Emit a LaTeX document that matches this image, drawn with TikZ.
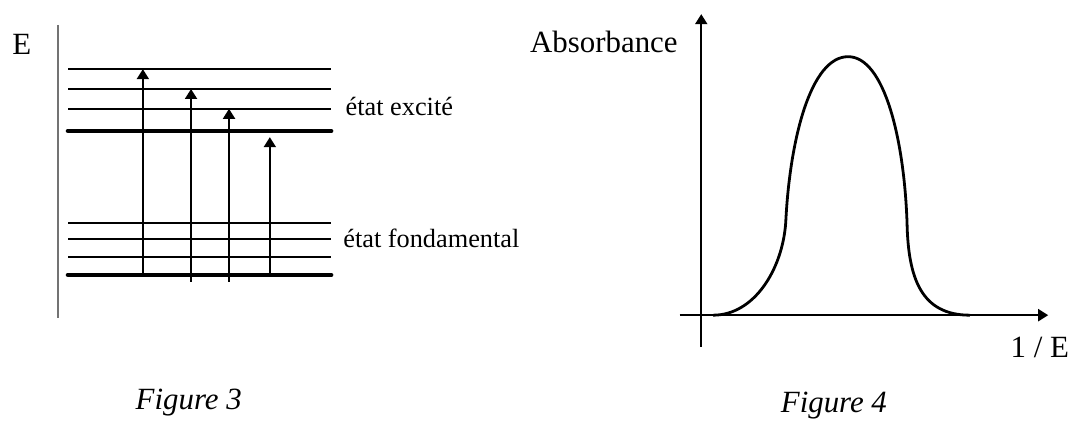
\documentclass[tikz,border=0pt]{standalone}
\usepackage{fontspec}
\setmainfont{Liberation Serif}
\usetikzlibrary{arrows.meta,positioning}
\tikzset{
  niveau/.style={line width=1pt},
  niveauBas/.style={line width=2.3pt, line cap=round},
  transition/.style={line width=1pt, -{Triangle[width=6pt,length=5pt]}},
  axe/.style={line width=1pt, -{Triangle[width=6pt,length=5pt]}},
  axeGris/.style={line width=0.8pt, black!55},
  courbe/.style={line width=1.4pt},
  grand/.style={font=\fontsize{15.5}{18}\selectfont, inner sep=0pt},
  etat/.style={font=\fontsize{13.2}{16}\selectfont, inner sep=0pt, anchor=base west},
  legende/.style={font=\fontsize{15.5}{18}\selectfont\itshape, inner sep=0pt, anchor=base},
}

\begin{document}
\begin{tikzpicture}
  \useasboundingbox (0,0) rectangle (18.91,7.46);

  % Figure 3 : niveaux d'energie
  \coordinate (axeHaut) at (1.02,7.02);
  \coordinate (axeBas)  at (1.02,1.85);
  \draw[axeGris] (axeHaut) -- (axeBas);
  \node[grand, anchor=base west] (labelE) at (0.21,6.49) {E};

  \foreach \y in {6.24,5.89,5.54,3.53,3.25,2.93}
    \draw[niveau] (1.20,\y) -- (5.84,\y);
  \draw[niveauBas] (1.20,5.15) -- (5.84,5.15);
  \draw[niveauBas] (1.20,2.61) -- (5.84,2.61);

  \foreach \n/\x/\ya/\yb in {1/2.52/2.61/6.24, 2/3.37/2.49/5.89,
                              3/4.04/2.49/5.54, 4/4.76/2.61/5.04} {
    \coordinate (dep\n) at (\x,\ya);
    \coordinate (arr\n) at (\x,\yb);
    \draw[transition] (dep\n) -- (arr\n);
  }

  \node[etat] (excite) at (6.09,5.43) {état excité};
  \node[etat] (fond)   at (6.05,3.10) {état fondamental};
  \node[legende] (fig3) at (3.33,0.23) {Figure 3};

  % Figure 4 : spectre d'absorption
  \coordinate (yBas)    at (12.37,1.34);
  \coordinate (yHaut)   at (12.37,7.21);
  \coordinate (xGauche) at (11.99,1.90);
  \coordinate (xDroite) at (18.49,1.90);
  \draw[axe] (yBas) -- (yHaut);
  \draw[axe] (xGauche) -- (xDroite);

  \coordinate (debut) at (12.58,1.90);
  \coordinate (inflG) at (13.86,3.53);
  \coordinate (pic)   at (14.96,6.46);
  \coordinate (inflD) at (16.00,3.53);
  \coordinate (fin)   at (17.11,1.90);
  \draw[courbe] (debut) .. controls (13.30,1.90) and (13.80,2.70) .. (inflG)
                        .. controls (13.93,5.00) and (14.30,6.46) .. (pic)
                        .. controls (15.60,6.46) and (15.95,5.00) .. (inflD)
                        .. controls (16.02,2.55) and (16.25,1.90) .. (fin);

  \node[grand, anchor=base east] (absorb) at (11.96,6.54) {Absorbance};
  \node[grand, anchor=base west] (invE)   at (17.82,1.16) {1 / E};
  \node[legende] (fig4) at (14.71,0.19) {Figure 4};
\end{tikzpicture}
\end{document}
